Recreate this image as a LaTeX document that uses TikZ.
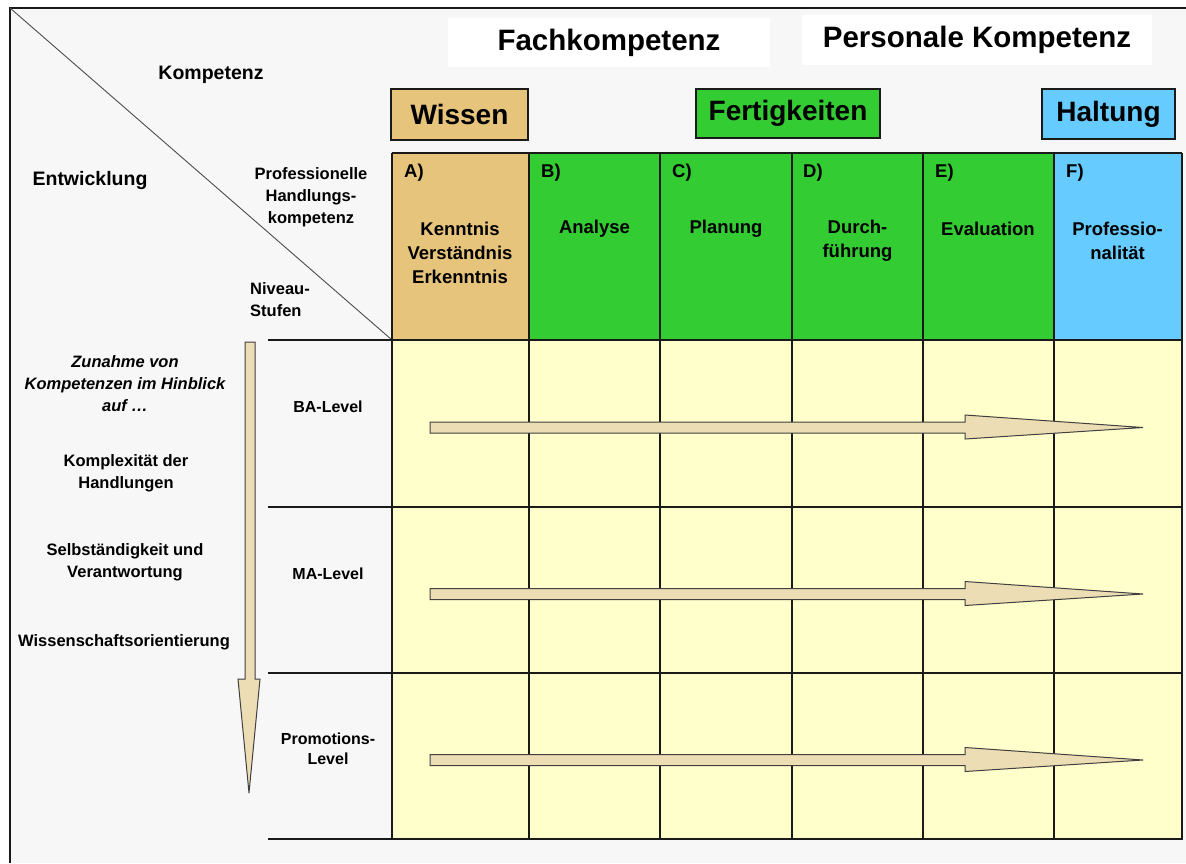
\documentclass[tikz,border=0pt]{standalone}
\usepackage{fontspec}
\setmainfont{Liberation Sans}
\definecolor{bgGray}{HTML}{F7F7F7}
\definecolor{wissenC}{HTML}{E6C47C}
\definecolor{greenC}{HTML}{33CC33}
\definecolor{blueC}{HTML}{66CCFF}
\definecolor{yellowC}{HTML}{FFFFCC}
\definecolor{arrowC}{HTML}{EDDDB4}
\definecolor{lineC}{HTML}{1A1A1A}
\begin{document}
\begin{tikzpicture}[x=1pt,y=-1pt,
  lbl/.style={font=\bfseries\fontsize{16.5}{22}\selectfont,align=center,inner sep=0pt},
  biglbl/.style={font=\bfseries\fontsize{19.5}{24}\selectfont,align=center,inner sep=0pt},
  cell/.style={font=\bfseries\fontsize{18.5}{24}\selectfont,align=center,inner sep=0pt},
  head/.style={font=\bfseries\fontsize{28}{32}\selectfont,inner sep=0pt},
  tophead/.style={font=\bfseries\fontsize{29.5}{34}\selectfont,inner sep=0pt},
  hbox/.style={draw=lineC,line width=1.3pt,head},
  gridline/.style={draw=lineC,line width=1.4pt},
  thickline/.style={draw=lineC,line width=2.6pt},
  blockarrow/.style={fill=arrowC,draw=black!75,line width=1pt,line join=miter},
  frame/.style={draw=lineC,line width=1.4pt},
  diag/.style={draw=black!70,line width=0.9pt}]
\useasboundingbox (0,0) rectangle (1186,863);
\fill[white] (0,0) rectangle (1186,863);
\fill[bgGray] (10,8) rectangle (1186,863);
\draw[frame] (10,863) -- (10,8) -- (1186,8);

% diagonal
\coordinate (TL) at (10,8);
\coordinate (TC) at (392,340);
\draw[diag] (TL) -- (TC);

% top-left labels
\node[biglbl] (kompetenz) at (211,75) {Kompetenz};
\node[biglbl] (entwicklung) at (90,180) {Entwicklung};
\node[lbl] (phk) at (311,197) {Professionelle\\Handlungs-\\kompetenz};
\node[lbl,align=left,anchor=west] (niveau) at (250,300) {Niveau-\\Stufen};

% header boxes
\node[fill=white,minimum width=322pt,minimum height=49pt,tophead] (fach) at (609,42.5) {Fachkompetenz};
\node[fill=white,minimum width=350pt,minimum height=50pt,tophead] (pers) at (977,40) {Personale Kompetenz};
\node[hbox,fill=wissenC,minimum width=137pt,minimum height=51pt] (wissen) at (459.5,114.5) {Wissen};
\node[hbox,fill=greenC,minimum width=184pt,minimum height=49pt] (fert) at (788,113.5) {Fertigkeiten};
\node[hbox,fill=blueC,minimum width=133pt,minimum height=50pt] (haltung) at (1108.5,114) {Haltung};

% table fills
\fill[wissenC] (392,153) rectangle (529,340);
\fill[greenC] (529,153) rectangle (1054,340);
\fill[blueC] (1054,153) rectangle (1182,340);
\fill[yellowC] (392,340) rectangle (1182,839);

% grid
\foreach \gx in {529,660,792,923,1054} {\draw[gridline] (\gx,153) -- (\gx,839);}
\draw[gridline] (268,340) -- (1182,340);
\draw[gridline] (268,507) -- (1182,507);
\draw[gridline] (268,673) -- (1182,673);
\draw[gridline] (392,340) -- (392,839);
\draw[thickline] (392,153) -- (1182,153);
\draw[line width=2pt,draw=lineC] (392,153) -- (392,340);
\draw[line width=2pt,draw=lineC] (1182,153) -- (1182,839);
\draw[thickline] (268,839) -- (1183,839);

% header cell texts
\node[cell,anchor=west] (a) at (404,173) {A)};
\node[cell,anchor=west] (b) at (541,173) {B)};
\node[cell,anchor=west] (c) at (672,173) {C)};
\node[cell,anchor=west] (d) at (803,173) {D)};
\node[cell,anchor=west] (e) at (935,173) {E)};
\node[cell,anchor=west] (f) at (1066,173) {F)};
\node[cell] (ta) at (460,253) {Kenntnis\\Verständnis\\Erkenntnis};
\node[cell] (tb) at (594.5,229) {Analyse};
\node[cell] (tc) at (726,229) {Planung};
\node[cell] (td) at (857.5,241) {Durch-\\führung};
\node[cell] (te) at (988,229) {Evaluation};
\node[cell] (tf) at (1117.5,241) {Professio-\\nalität};

% left column texts
\node[lbl,font=\bfseries\itshape\fontsize{16.5}{22}\selectfont] (zun) at (125,384) {Zunahme von\\Kompetenzen im Hinblick\\auf \ldots};
\node[lbl] (kompl) at (126,473) {Komplexität der\\Handlungen};
\node[lbl] (selb) at (125,562) {Selbständigkeit und\\Verantwortung};
\node[lbl] (wiss) at (124,642) {Wissenschaftsorientierung};
\node[lbl,font=\bfseries\fontsize{16}{20}\selectfont] (ba) at (328,407) {BA-Level};
\node[lbl,font=\bfseries\fontsize{16}{20}\selectfont] (ma) at (328,574) {MA-Level};
\node[lbl,font=\bfseries\fontsize{16}{20}\selectfont] (promo) at (328,749) {Promotions-\\Level};

% vertical block arrow
\draw[blockarrow] (245,342) -- (255,342) -- (255,679) -- (260,679) -- (249,793) -- (238,679) -- (245,679) -- cycle;

% horizontal block arrows
\foreach \cy in {427.5,594,760} {
  \draw[blockarrow] (430,\cy-5.5) -- (965,\cy-5.5) -- (965,\cy-12.5) -- (1143,\cy) -- (965,\cy+11.5) -- (965,\cy+5.5) -- (430,\cy+5.5) -- cycle;
}
\end{tikzpicture}
\end{document}
